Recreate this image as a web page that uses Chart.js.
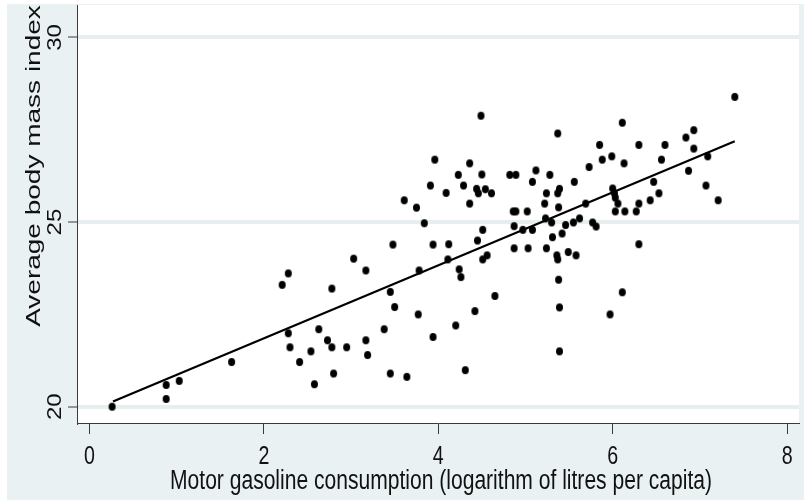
<!DOCTYPE html>
<html>
<head>
<meta charset="utf-8">
<script src="https://cdn.jsdelivr.net/npm/chart.js@4.4.1/dist/chart.umd.min.js"></script>
<style>
  html, body { margin: 0; padding: 0; background: #fff; }
  canvas { display: block; }
</style>
</head>
<body>
<canvas id="chart" width="804" height="500"></canvas>
<script>
const xTitle = "Motor gasoline consumption (logarithm of litres per capita)";
const yTitle = "Average body mass index";
const xTicks = [0, 2, 4, 6, 8];
const yTicks = [20, 25, 30];

const gasoline = [
  0.26, 0.88, 0.88, 1.03, 1.63, 2.21, 2.28, 2.28, 2.30, 2.41,
  2.54, 2.58, 2.63, 2.73, 2.78, 2.78, 2.80, 2.95, 3.03, 3.17,
  3.17, 3.19, 3.38, 3.45, 3.50, 3.45, 3.64, 3.77, 3.78, 3.48,
  3.84, 3.94, 3.94, 3.96, 3.91, 3.61, 3.75, 4.49, 4.09, 4.12,
  4.11, 4.23, 4.29, 4.36, 4.36, 4.44, 4.46, 4.50, 4.54, 4.61,
  4.51, 4.45, 4.51, 4.56, 4.24, 4.26, 4.82, 4.89, 5.12, 5.08,
  5.28, 5.37, 5.24, 5.22, 5.39, 5.37, 5.38, 4.86, 4.89, 5.02,
  5.23, 5.30, 4.87, 4.97, 5.08, 5.46, 5.42, 5.31, 5.56, 5.55,
  5.62, 5.69, 4.87, 5.03, 5.24, 5.36, 5.37, 5.49, 5.58, 5.38,
  5.73, 5.85, 5.88, 5.99, 6.11, 6.13, 6.00, 6.02, 6.03, 6.06,
  6.03, 6.14, 5.77, 5.81, 6.30, 6.30, 6.27, 6.30, 6.47, 6.43,
  6.53, 6.56, 6.60, 6.84, 6.93, 6.93, 6.87, 7.09, 7.07, 7.21,
  7.40, 4.20, 4.42, 4.65, 4.31, 5.39, 5.39, 6.11, 5.97
];
const bmi = [
  20.00, 20.21, 20.59, 20.70, 21.21, 23.30, 23.61, 21.99, 21.61, 21.21,
  21.50, 20.61, 22.10, 21.80, 21.61, 23.20, 20.90, 21.61, 24.01, 23.69,
  21.80, 21.40, 22.10, 23.11, 22.70, 20.90, 20.81, 22.50, 23.69, 24.39,
  24.97, 24.39, 21.89, 26.69, 25.99, 25.59, 25.39, 27.88, 25.79, 24.40,
  23.99, 26.28, 25.99, 26.59, 25.50, 25.90, 25.78, 26.29, 25.89, 25.78,
  24.79, 24.50, 23.99, 24.10, 23.72, 23.51, 26.28, 26.28, 26.40, 26.09,
  26.28, 27.40, 25.78, 25.50, 25.90, 25.78, 25.40, 25.29, 25.29, 25.29,
  25.10, 24.99, 24.89, 24.79, 24.79, 24.92, 24.69, 24.59, 26.09, 24.99,
  25.10, 25.50, 24.29, 24.29, 24.29, 24.10, 23.99, 24.19, 24.10, 23.44,
  26.49, 27.09, 26.69, 26.78, 27.69, 26.59, 25.91, 25.78, 25.66, 25.50,
  25.29, 25.29, 24.99, 24.88, 27.09, 25.50, 25.29, 24.40, 26.09, 25.59,
  25.78, 26.69, 27.09, 27.29, 27.49, 26.99, 26.39, 26.78, 25.99, 25.59,
  28.39, 22.20, 22.59, 23.00, 20.99, 22.69, 21.50, 23.10, 22.50
];

// fitted line at both ends
const fitX = [0.27, 7.40];
const fitY = [20.14, 27.19];

const bgColor = "#e9f1f3";
const axisColor = "#3a3a3a";
const font = '"Liberation Sans", Arial, sans-serif';

function dotImage() {
  const c = document.createElement("canvas");
  c.width = 9;
  c.height = 10;
  const ctx = c.getContext("2d");
  ctx.fillStyle = "#000";
  ctx.beginPath();
  ctx.ellipse(4.5, 5, 3.5, 4.1, 0, 0, Math.PI * 2);
  ctx.fill();
  return c;
}

// squeezed text, the reference is stretched vertically
function squeezedText(ctx, text, x, y, size, k, rotate) {
  ctx.save();
  ctx.translate(x, y);
  if (rotate) ctx.rotate(-Math.PI / 2);
  ctx.scale(rotate ? 1 : k, rotate ? k : 1);
  ctx.font = `${size}px ${font}`;
  ctx.fillStyle = "#111";
  ctx.textAlign = "center";
  ctx.textBaseline = "alphabetic";
  ctx.fillText(text, 0, 0);
  ctx.restore();
}

const stataLook = {
  id: "stataLook",
  beforeDraw(chart) {
    const { ctx, chartArea: a } = chart;
    ctx.save();
    ctx.fillStyle = "#fff";
    ctx.fillRect(0, 0, chart.width, chart.height);
    ctx.fillStyle = bgColor;
    ctx.fillRect(7, 4, chart.width - 7, chart.height - 4);
    ctx.fillStyle = "#fff";
    ctx.fillRect(a.left, a.top, a.right - a.left, a.bottom - a.top);
    ctx.restore();
  },
  afterDraw(chart) {
    const { ctx } = chart;
    const xs = chart.scales.x;
    const ys = chart.scales.y;
    for (const t of xs.ticks) {
      squeezedText(ctx, String(t.value), xs.getPixelForValue(t.value), 464, 26.5, 0.74, false);
    }
    for (const t of ys.ticks) {
      squeezedText(ctx, String(t.value), 61, ys.getPixelForValue(t.value), 24, 0.88, true);
    }
    squeezedText(ctx, xTitle, 441, 489, 27, 0.78, false);
    squeezedText(ctx, yTitle, 40, 166, 28, 0.74, true);
  }
};

const points = gasoline.map((x, i) => ({ x, y: bmi[i] }));
const fitLine = fitX.map((x, i) => ({ x, y: fitY[i] }));

new Chart(document.getElementById("chart").getContext("2d"), {
  type: "scatter",
  data: {
    datasets: [
      {
        data: fitLine,
        showLine: true,
        borderColor: "#000",
        borderWidth: 2.2,
        pointRadius: 0,
        order: 2
      },
      {
        data: points,
        pointStyle: dotImage(),
        pointRadius: 4,
        order: 1
      }
    ]
  },
  options: {
    responsive: false,
    animation: false,
    devicePixelRatio: 1,
    layout: { padding: { top: 4, right: 0, left: 0, bottom: 0 } },
    plugins: { legend: { display: false }, tooltip: { enabled: false } },
    scales: {
      x: {
        type: "linear",
        min: -0.1424,
        max: 8.1367,
        afterBuildTicks: (s) => { s.ticks = xTicks.map((v) => ({ value: v })); },
        afterFit: (s) => { s.height = 77; },
        ticks: { display: false },
        grid: { drawOnChartArea: false, drawTicks: true, tickLength: 11, tickColor: axisColor, tickWidth: 1 },
        border: { display: true, color: axisColor, width: 1 }
      },
      y: {
        type: "linear",
        min: 19.56,
        max: 30.878,
        afterBuildTicks: (s) => { s.ticks = yTicks.map((v) => ({ value: v })); },
        afterFit: (s) => { s.width = 77; },
        ticks: { display: false },
        grid: { color: "#e6eef0", lineWidth: 4, drawTicks: true, tickLength: 9, tickColor: axisColor, tickWidth: 1 },
        border: { display: true, color: axisColor, width: 1 }
      }
    }
  },
  plugins: [stataLook]
});
</script>
</body>
</html>
